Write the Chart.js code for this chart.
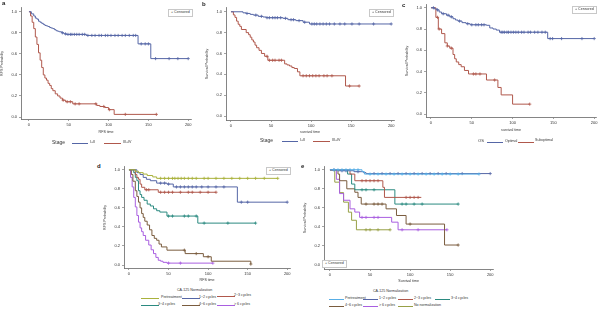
<!DOCTYPE html>
<html><head><meta charset="utf-8">
<script src="https://cdn.jsdelivr.net/npm/chart.js@4"></script>
<style>
body{margin:0;background:#fff;width:600px;height:310px;overflow:hidden;position:relative;font-family:"Liberation Sans",Arial,sans-serif;}
.t{position:absolute;white-space:nowrap;line-height:1;color:#333}
canvas{position:absolute}
.sw{position:absolute;height:0;border-top:1px solid}
.cb{position:absolute;border:1px solid #c8c8c8;font-size:3.6px;line-height:1;color:#333;padding:1px 2px;white-space:nowrap;background:#fff}
.lt{position:absolute;font-weight:bold;font-size:6px;line-height:1;color:#222}
</style>
</head><body>
<script>
// ---------- DATA ----------
const xTickVals = [0, 50, 100, 150, 200];
const yTickVals = [0, 0.2, 0.4, 0.6, 0.8, 1.0];
const yTickLabels = ["0.0", "0.2", "0.4", "0.6", "0.8", "1.0"];

// Panel a: RFS by stage
const aStageLabels = ["I+II", "III+IV"];
const aEarlyT = [0, 3, 6, 8, 10, 12, 14, 16, 18, 20, 22, 24, 26, 28, 30, 32, 34, 36, 38, 41, 44, 47, 72, 137, 153, 200];
const aEarlyS = [1.0, 0.98, 0.96, 0.94, 0.93, 0.91, 0.90, 0.89, 0.88, 0.87, 0.865, 0.86, 0.85, 0.845, 0.84, 0.83, 0.82, 0.815, 0.81, 0.80, 0.79, 0.785, 0.775, 0.695, 0.555, 0.555];
const aEarlyC = [42, 46, 49, 52, 54, 57, 60, 63, 67, 70, 74, 79, 83, 88, 91, 96, 99, 103, 108, 112, 117, 121, 126, 131, 134, 141, 146, 150, 159, 176, 187, 200];
const aLateT = [0, 2, 4, 6, 8, 10, 12, 14, 16, 18, 20, 22, 24, 26, 28, 30, 33, 36, 39, 42, 46, 55, 85, 89, 95, 100, 107, 160];
const aLateS = [1.0, 0.96, 0.90, 0.84, 0.76, 0.69, 0.61, 0.54, 0.47, 0.40, 0.37, 0.35, 0.32, 0.30, 0.27, 0.25, 0.22, 0.20, 0.18, 0.16, 0.145, 0.125, 0.11, 0.10, 0.09, 0.07, 0.025, 0.025];
const aLateC = [43, 48, 52, 58, 63, 84, 94, 101, 121, 160];

// Panel b: OS by stage
const bEarlyT = [0, 15, 19, 24, 28, 34, 40, 44, 65, 71, 81, 90, 98, 200];
const bEarlyS = [1.0, 0.99, 0.984, 0.975, 0.968, 0.956, 0.95, 0.943, 0.937, 0.924, 0.915, 0.90, 0.883, 0.883];
const bEarlyC = [20, 31, 38, 45, 48, 52, 55, 58, 62, 68, 75, 78, 85, 92, 101, 104, 107, 111, 115, 119, 123, 129, 136, 142, 151, 160, 178, 200];
const bLateT = [0, 3, 5, 7, 9, 11, 13, 19, 22, 24, 26, 28, 30, 32, 35, 38, 42, 46, 67, 70, 73, 76, 79, 83, 86, 143, 160];
const bLateS = [1.0, 0.97, 0.946, 0.91, 0.88, 0.86, 0.83, 0.80, 0.78, 0.756, 0.73, 0.71, 0.68, 0.655, 0.63, 0.60, 0.573, 0.535, 0.50, 0.49, 0.48, 0.465, 0.456, 0.424, 0.386, 0.288, 0.288];
const bLateC = [45, 48, 52, 55, 60, 63, 90, 94, 98, 102, 106, 110, 116, 120, 126, 148, 160];

// Panel c: OS by surgery
const cSurgLabels = ["Optimal", "Suboptimal"];
const cOptT = [0, 4, 7, 10, 13, 19, 23, 27, 30, 33, 38, 43, 48, 68, 72, 76, 80, 84, 143, 200];
const cOptS = [1.0, 0.99, 0.98, 0.96, 0.944, 0.93, 0.915, 0.897, 0.885, 0.875, 0.86, 0.85, 0.84, 0.835, 0.81, 0.80, 0.79, 0.77, 0.71, 0.71];
const cOptC = [3, 8, 15, 21, 25, 35, 45, 50, 55, 58, 62, 65, 86, 88, 90, 93, 95, 98, 101, 104, 107, 111, 114, 119, 122, 127, 131, 136, 140, 146, 149, 160, 185, 200];
const cSubT = [0, 6, 9, 13, 17, 20, 23, 27, 29, 31, 34, 37, 41, 46, 68, 82, 86, 100, 121];
const cSubS = [1.0, 0.91, 0.80, 0.757, 0.67, 0.64, 0.62, 0.56, 0.52, 0.49, 0.465, 0.445, 0.41, 0.377, 0.32, 0.25, 0.18, 0.093, 0.093];
const cSubC = [8, 10, 20, 25, 52, 55, 60, 78, 121];

// Panel d: RFS by CA-125 normalization
const dGroups = ["Pretreatment", "1~2 cycles", "2~3 cycles", "3~4 cycles", "4~6 cycles", "> 6 cycles"];
const dPreT = [0, 8, 12, 18, 23, 30, 35, 188];
const dPreS = [1.0, 0.985, 0.97, 0.955, 0.94, 0.925, 0.91, 0.91];
const dPreC = [40, 45, 50, 55, 58, 62, 66, 70, 75, 80, 85, 95, 100, 110, 120, 130, 140, 150, 160, 171, 188];
const d12T = [0, 10, 14, 18, 22, 27, 35, 48, 56, 137, 200];
const d12S = [1.0, 0.97, 0.95, 0.92, 0.90, 0.885, 0.86, 0.85, 0.82, 0.66, 0.66];
const d12C = [40, 45, 50, 60, 65, 70, 75, 80, 85, 92, 100, 110, 120, 142, 150, 200];
const d23T = [0, 8, 10, 12, 14, 16, 20, 37, 110];
const d23S = [1.0, 0.95, 0.92, 0.90, 0.85, 0.816, 0.79, 0.764, 0.764];
const d23C = [22, 25, 40, 45, 50, 55, 65, 75, 80, 90, 100, 110];
const d34T = [0, 6, 8, 10, 12, 14, 16, 19, 23, 27, 31, 35, 39, 48, 87, 160];
const d34S = [1.0, 0.97, 0.92, 0.885, 0.78, 0.74, 0.71, 0.68, 0.64, 0.62, 0.59, 0.57, 0.556, 0.514, 0.44, 0.44];
const d34C = [50, 55, 70, 75, 85, 95, 125, 160];
const d46T = [0, 3, 5, 8, 10, 12, 14, 16, 18, 20, 23, 26, 29, 32, 35, 38, 41, 48, 71, 94, 104, 154];
const d46S = [1.0, 0.95, 0.88, 0.78, 0.72, 0.66, 0.60, 0.54, 0.50, 0.46, 0.42, 0.37, 0.31, 0.28, 0.26, 0.22, 0.19, 0.156, 0.12, 0.087, 0.04, 0.01];
const d46C = [70, 85, 100, 154];
const d6pT = [0, 2, 4, 6, 8, 10, 12, 14, 16, 18, 21, 25, 28, 31, 34, 37, 40, 43, 48, 106];
const d6pS = [1.0, 0.92, 0.82, 0.71, 0.61, 0.52, 0.45, 0.39, 0.35, 0.31, 0.26, 0.21, 0.16, 0.12, 0.08, 0.05, 0.04, 0.028, 0.02, 0.02];
const d6pC = [50, 65, 106];

// Panel e: OS by CA-125 normalization
const eGroups = ["Pretreatment", "1~2 cycles", "2~3 cycles", "3~4 cycles", "4~6 cycles", "> 6 cycles", "No normalization"];
const ePreT = [0, 40, 43, 186];
const ePreS = [1.0, 0.98, 0.955, 0.955];
const ePreC = [5, 10, 15, 20, 25, 30, 35, 50, 60, 70, 80, 90, 100, 110, 120, 130, 140, 150, 160, 186];
const e12T = [0, 10, 30, 42, 45, 200];
const e12S = [1.0, 0.99, 0.98, 0.97, 0.96, 0.96];
const e12C = [5, 15, 20, 35, 55, 65, 75, 85, 95, 105, 115, 125, 135, 145, 165, 200];
const e23T = [0, 25, 31, 66, 68, 114];
const e23S = [1.0, 0.955, 0.885, 0.816, 0.71, 0.71];
const e23C = [40, 45, 50, 55, 60, 95, 100, 105, 110];
const e34T = [0, 22, 27, 31, 81, 160];
const e34S = [1.0, 0.955, 0.85, 0.79, 0.64, 0.64];
const e34C = [40, 45, 55, 90, 95, 105, 115, 160];
const e46T = [0, 10, 12, 21, 31, 35, 39, 70, 83, 95, 143, 160];
const e46S = [1.0, 0.955, 0.885, 0.80, 0.764, 0.71, 0.64, 0.59, 0.52, 0.43, 0.21, 0.21];
const e46C = [45, 55, 60, 65, 100, 160];
const e6pT = [0, 8, 12, 17, 25, 31, 37, 77, 85, 146];
const e6pS = [1.0, 0.90, 0.75, 0.68, 0.59, 0.556, 0.50, 0.45, 0.37, 0.37];
const e6pC = [40, 45, 55, 60, 90, 110, 146];
const eNoT = [0, 6, 12, 17, 23, 27, 33, 75];
const eNoS = [1.0, 0.87, 0.76, 0.66, 0.555, 0.47, 0.37, 0.37];
const eNoC = [45, 50, 60, 75];

// ---------- STYLE ----------
const COL = {
  blue: '#5566a6', red: '#b0584c', olive: '#a9b23c', teal: '#2b8a80',
  brown: '#7a5c3e', purple: '#a95fe0', lblue: '#58aee6', olive2: '#97a046'
};
const FONT = '"Liberation Sans", Arial, sans-serif';

function survAt(T, S, t) {
  let v = S[0];
  for (let i = 0; i < T.length; i++) { if (T[i] <= t) v = S[i]; }
  return v;
}

function series(T, S, C, color) {
  return [
    { data: T.map((t, i) => ({ x: t, y: S[i] })), borderColor: color, borderWidth: 1,
      stepped: 'before', pointRadius: 0, fill: false },
    { data: C.map(t => ({ x: t, y: survAt(T, S, t) })), showLine: false,
      pointStyle: 'cross', pointRadius: 1.6, borderColor: color, borderWidth: 0.8, pointBorderColor: color }
  ];
}

function panel(g, xTitle, yTitle, datasets) {
  const padT = 4, padR = 4;
  const cl = g.left - g.yW, ct = g.top - padT;
  const w = g.right + padR - cl, h = g.bottom + g.xH - ct;
  const cv = document.createElement('canvas');
  cv.width = w; cv.height = h;
  cv.style.left = cl + 'px'; cv.style.top = ct + 'px';
  cv.style.width = w + 'px'; cv.style.height = h + 'px';
  document.body.appendChild(cv);
  const sx = (g.x200 - g.x0) / 200, sy = (g.y0 - g.y1);
  const xMin = (g.left - g.x0) / sx, xMax = (g.right - g.x0) / sx;
  const yMin = (g.y0 - g.bottom) / sy, yMax = (g.y0 - g.top) / sy;
  const axisCol = '#666', txt = '#333';
  new Chart(cv, {
    type: 'line',
    data: { datasets },
    options: {
      responsive: false, animation: false, devicePixelRatio: 1,
      layout: { padding: { top: padT, right: padR, left: 0, bottom: 0 } },
      plugins: { legend: { display: false }, tooltip: { enabled: false } },
      scales: {
        x: {
          type: 'linear', min: xMin, max: xMax,
          afterFit: s => { s.height = g.xH; },
          afterBuildTicks: s => { s.ticks = xTickVals.map(v => ({ value: v })); },
          grid: { drawOnChartArea: false, tickLength: 2, color: axisCol, lineWidth: 0.6 },
          border: { color: axisCol, width: 0.8 },
          ticks: { font: { size: 4, family: FONT }, color: txt, padding: 1, maxRotation: 0, autoSkip: false,
                   callback: v => String(v) },
          title: { display: true, text: xTitle, font: { size: 3.6, family: FONT }, color: txt, padding: { top: 1, bottom: 0 } }
        },
        y: {
          type: 'linear', min: yMin, max: yMax,
          afterFit: s => { s.width = g.yW; },
          afterBuildTicks: s => { s.ticks = yTickVals.map(v => ({ value: v })); },
          grid: { drawOnChartArea: false, tickLength: 2, color: axisCol, lineWidth: 0.6 },
          border: { color: axisCol, width: 0.8 },
          ticks: { font: { size: 4, family: FONT }, color: txt, padding: 2, autoSkip: false,
                   callback: v => yTickLabels[yTickVals.indexOf(Math.round(v * 10) / 10)] || '' },
          title: { display: true, text: yTitle, font: { size: 3.6, family: FONT }, color: txt, padding: 0 }
        }
      }
    }
  });
}

function txt(s, x, y, size, extra) {
  const d = document.createElement('div');
  d.className = 't'; d.textContent = s;
  d.style.left = x + 'px'; d.style.top = y + 'px'; d.style.fontSize = size + 'px';
  if (extra) Object.assign(d.style, extra);
  document.body.appendChild(d);
}
function sw(x, y, w, color) {
  const d = document.createElement('div');
  d.className = 'sw'; d.style.left = x + 'px'; d.style.top = y + 'px';
  d.style.width = w + 'px'; d.style.borderTopColor = color;
  document.body.appendChild(d);
}
function censBox(x, y) {
  const d = document.createElement('div');
  d.className = 'cb'; d.textContent = '+ Censored';
  d.style.left = x + 'px'; d.style.top = y + 'px';
  document.body.appendChild(d);
}
function letter(s, x, y) {
  const d = document.createElement('div');
  d.className = 'lt'; d.textContent = s;
  d.style.left = x + 'px'; d.style.top = y + 'px';
  document.body.appendChild(d);
}

// ---------- PANELS ----------
panel({ x0: 29, x200: 189, y1: 11, y0: 117, left: 21, bottom: 119, right: 192, top: 7, yW: 21, xH: 15 },
  'RFS time', 'RFS Probability',
  [...series(aEarlyT, aEarlyS, aEarlyC, COL.blue), ...series(aLateT, aLateS, aLateC, COL.red)]);
panel({ x0: 231, x200: 392, y1: 11, y0: 116, left: 226, bottom: 120, right: 395, top: 7, yW: 21, xH: 14 },
  'survival time', 'Survival Probability',
  [...series(bEarlyT, bEarlyS, bEarlyC, COL.blue), ...series(bLateT, bLateS, bLateC, COL.red)]);
panel({ x0: 431, x200: 595, y1: 7, y0: 114, left: 426, bottom: 117, right: 597, top: 4, yW: 21, xH: 15 },
  'survival time', 'Survival Probability',
  [...series(cOptT, cOptS, cOptC, COL.blue), ...series(cSubT, cSubS, cSubC, COL.red)]);
panel({ x0: 129, x200: 288, y1: 169, y0: 265, left: 124, bottom: 268, right: 291, top: 166, yW: 21, xH: 14 },
  'RFS time', 'RFS Probability',
  [...series(dPreT, dPreS, dPreC, COL.olive), ...series(d12T, d12S, d12C, COL.blue),
   ...series(d23T, d23S, d23C, COL.red), ...series(d34T, d34S, d34C, COL.teal),
   ...series(d46T, d46S, d46C, COL.brown), ...series(d6pT, d6pS, d6pC, COL.purple)]);
panel({ x0: 330, x200: 491, y1: 169, y0: 265, left: 324, bottom: 269, right: 494, top: 166, yW: 21, xH: 14 },
  'Survival time', 'Survival Probability',
  [...series(ePreT, ePreS, ePreC, COL.lblue), ...series(e12T, e12S, e12C, COL.blue),
   ...series(e23T, e23S, e23C, COL.red), ...series(e34T, e34S, e34C, COL.teal),
   ...series(e46T, e46S, e46C, COL.brown), ...series(e6pT, e6pS, e6pC, COL.purple),
   ...series(eNoT, eNoS, eNoC, COL.olive2)]);

// ---------- LETTERS / LEGENDS ----------
letter('a', 2, 0); letter('b', 202, 1); letter('c', 402, 2); letter('d', 97, 163); letter('e', 301, 163);
censBox(168, 9); censBox(369, 9); censBox(572, 6); censBox(266, 167); censBox(322, 260);

// a legend
txt('Stage', 52, 140, 5); sw(72, 142.5, 16, COL.blue); txt(aStageLabels[0], 90, 141, 3.6);
sw(104, 142.5, 17, COL.red); txt(aStageLabels[1], 123, 141, 3.6);
// b legend
txt('Stage', 260, 138, 5); sw(282, 140.5, 16, COL.blue); txt(aStageLabels[0], 300, 139, 3.6);
sw(313, 140.5, 17, COL.red); txt(aStageLabels[1], 332, 139, 3.6);
// c legend
txt('OS', 478, 139, 4.2); sw(487, 141.5, 16, COL.blue); txt(cSurgLabels[0], 505, 140, 3.6);
sw(518, 141.5, 16, COL.red); txt(cSurgLabels[1], 535, 139, 3.6);
// d legend
txt('CA-125 Normalization', 177, 288.5, 3.6);
const dCols = [COL.olive, COL.blue, COL.red, COL.teal, COL.brown, COL.purple];
const dPos = [[141, 296], [182, 296], [217, 294], [141, 303], [182, 303], [217, 303]];
dGroups.forEach((g, i) => { const [x, y] = dPos[i]; sw(x, y + 1.5, 18, dCols[i]); txt(g, x + (i === 0 ? 20 : 17), y, 3.6); });
// e legend
txt('CA-125 Normalization', 373, 290, 3.6);
const eCols = [COL.lblue, COL.blue, COL.red, COL.teal, COL.brown, COL.purple, COL.olive2];
const ePos = [[329, 297], [363, 297], [398, 297], [435, 297], [329, 304], [363, 304], [398, 304]];
eGroups.forEach((g, i) => { const [x, y] = ePos[i]; sw(x, y + 1.5, 15, eCols[i]); txt(g, x + 16, y, 3.6); });
</script>
</body></html>
